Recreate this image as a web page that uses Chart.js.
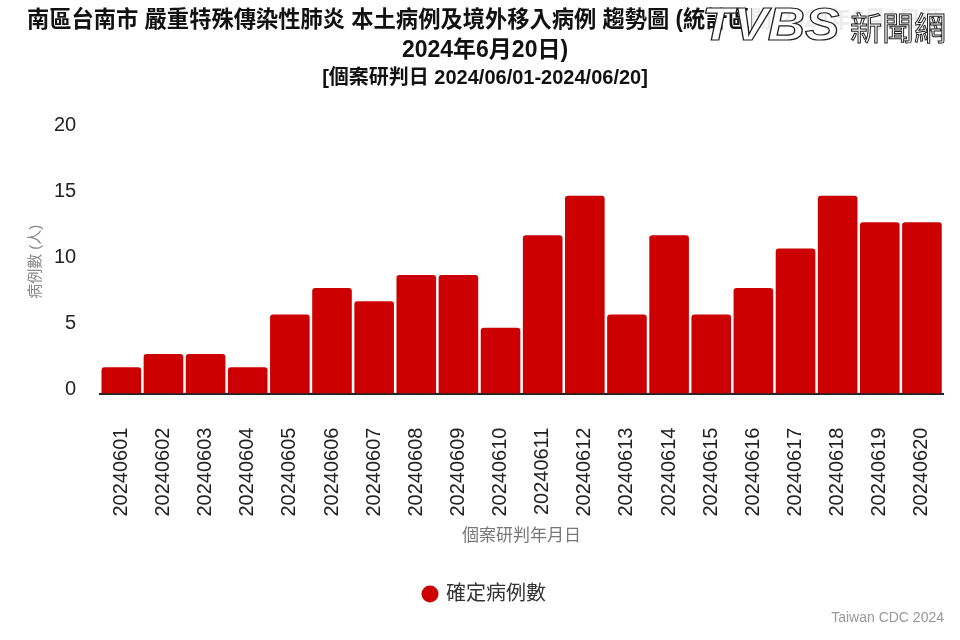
<!DOCTYPE html>
<html>
<head>
<meta charset="utf-8">
<script src="https://cdn.jsdelivr.net/npm/chart.js@4.4.1/dist/chart.umd.min.js"></script>
<style>
  html, body { margin: 0; padding: 0; background: #fff; }
  #wrap { width: 960px; height: 640px; }
</style>
</head>
<body>
<div id="wrap"><canvas id="cdcChart" width="960" height="640"></canvas></div>
<script>
// data
const days = ['20240601', '20240602', '20240603', '20240604', '20240605', '20240606', '20240607',
  '20240608', '20240609', '20240610', '20240611', '20240612', '20240613', '20240614',
  '20240615', '20240616', '20240617', '20240618', '20240619', '20240620'];
const confirmed = [2, 3, 3, 2, 6, 8, 7, 9, 9, 5, 12, 15, 6, 12, 6, 8, 11, 15, 13, 13];
const yTicks = [0, 5, 10, 15, 20];

const titleLines = [
  '南區台南市 嚴重特殊傳染性肺炎 本土病例及境外移入病例 趨勢圖 (統計區間:2024年6月1日至',
  '2024年6月20日)'
];
const subTitle = '[個案研判日 2024/06/01-2024/06/20]';

const sansFont = '"Liberation Sans", Arial, "Noto Sans CJK TC", sans-serif';

// source note + TVBS watermark
const extras = {
  id: 'extras',
  afterDraw(chart) {
    const c = chart.ctx;
    c.save();
    c.font = '14px ' + sansFont;
    c.fillStyle = '#999';
    c.textAlign = 'right';
    c.textBaseline = 'middle';
    c.fillText('Taiwan CDC 2024', 944, 618);

    c.textAlign = 'left';
    c.textBaseline = 'alphabetic';
    c.fillStyle = 'rgba(255,255,255,0.92)';
    c.fillRect(752, 2, 196, 44);
    c.lineWidth = 1.2;
    c.strokeStyle = '#222';
    c.fillStyle = '#fff';
    c.save();
    c.translate(702, 40);
    c.scale(1.12, 1);
    c.font = 'italic bold 46px ' + sansFont;
    c.fillText('TVBS', 0, 0);
    c.strokeText('TVBS', 0, 0);
    c.restore();
    c.font = '32px "Noto Sans CJK TC", sans-serif';
    c.lineWidth = 1;
    c.fillText('新聞網', 850, 40);
    c.strokeText('新聞網', 850, 40);
    c.restore();
  }
};

new Chart(document.getElementById('cdcChart'), {
  type: 'bar',
  data: {
    labels: days,
    datasets: [{
      label: '確定病例數',
      data: confirmed,
      backgroundColor: '#cc0000',
      borderRadius: 3,
      borderSkipped: 'bottom',
      barPercentage: 0.94,
      categoryPercentage: 1
    }]
  },
  options: {
    responsive: false,
    animation: false,
    layout: { padding: { left: 27, right: 17, top: 2, bottom: 26 } },
    plugins: {
      title: {
        display: true,
        text: titleLines,
        color: '#111',
        font: { family: sansFont, size: 23, weight: 'bold', lineHeight: 1.28 },
        padding: { top: 4, bottom: 2 }
      },
      subtitle: {
        display: true,
        text: subTitle,
        color: '#111',
        font: { family: sansFont, size: 20, weight: 'bold' },
        padding: { top: 0, bottom: 39 }
      },
      legend: {
        position: 'bottom',
        labels: {
          usePointStyle: true,
          pointStyle: 'circle',
          boxWidth: 12,
          boxHeight: 12,
          color: '#333',
          font: { family: sansFont, size: 20 },
          padding: 22
        }
      },
      tooltip: { enabled: false }
    },
    scales: {
      x: {
        grid: { display: false, drawTicks: true, tickLength: 30 },
        border: { display: true, color: '#222', width: 2 },
        ticks: {
          color: '#222',
          font: { family: sansFont, size: 20 },
          minRotation: 90,
          maxRotation: 90,
          padding: 4
        },
        title: {
          display: true,
          text: '個案研判年月日',
          color: '#777',
          font: { family: sansFont, size: 17 },
          padding: { top: 6, bottom: 15 }
        }
      },
      y: {
        min: 0,
        max: 20,
        afterBuildTicks(axis) { axis.ticks = yTicks.map(v => ({ value: v })); },
        grid: { display: false, drawTicks: true, tickLength: 20 },
        border: { display: false },
        ticks: {
          color: '#222',
          font: { family: sansFont, size: 20 },
          padding: 4,
          labelOffset: -4
        },
        title: {
          display: true,
          text: '病例數 (人)',
          color: '#888',
          font: { family: sansFont, size: 15 },
          padding: { top: 0, bottom: 5 }
        }
      }
    }
  },
  plugins: [extras]
});
</script>
</body>
</html>
